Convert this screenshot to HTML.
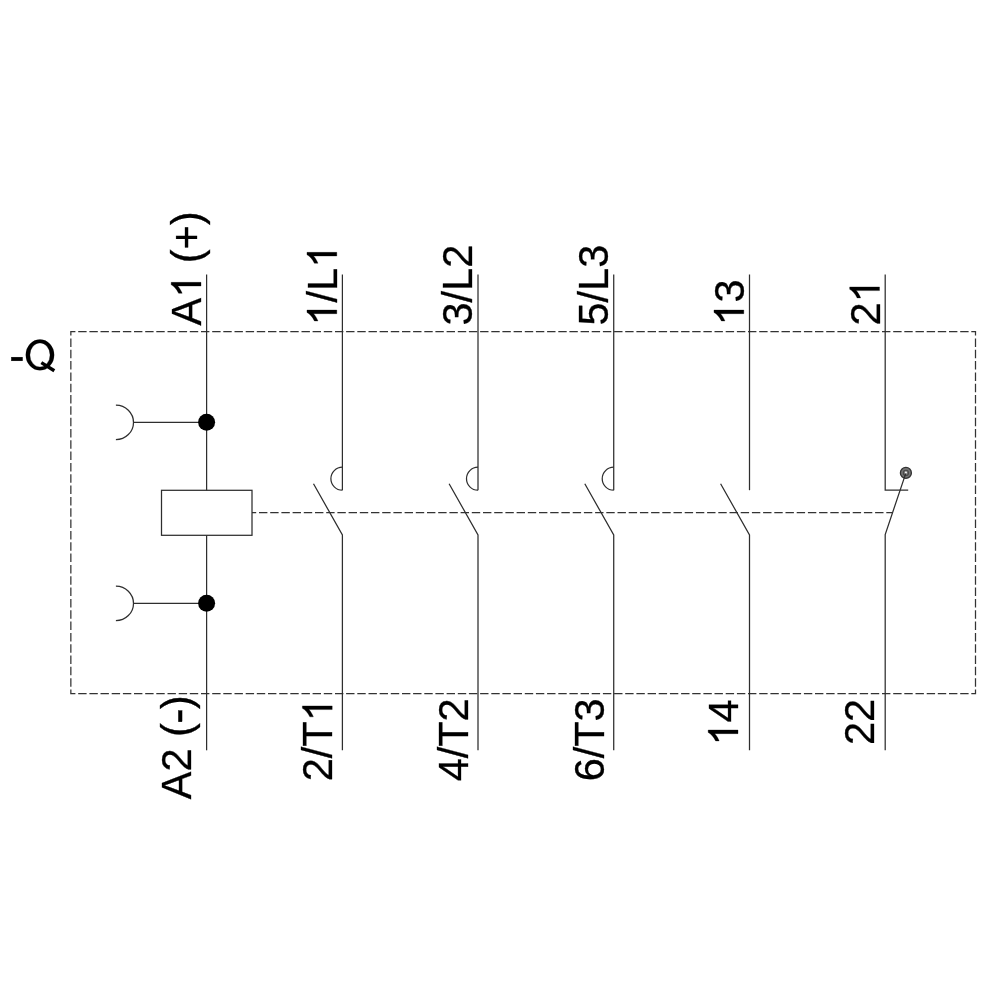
<!DOCTYPE html>
<html><head><meta charset="utf-8"><title>Contactor circuit diagram</title>
<style>
html,body{margin:0;padding:0;background:#fff;}
body{width:1000px;height:1000px;overflow:hidden;}
svg{display:block;will-change:transform;}
text{font-family:"Liberation Sans",sans-serif;font-size:41.5px;fill:#000;font-kerning:none;stroke:#000;stroke-width:0.3px;}
.h{fill:none;stroke:none;}
.g{fill:#000;stroke:#000;stroke-width:0.3px;}
.o{stroke-width:15px;}
.ln{stroke:#2e2e2e;stroke-width:1.25;fill:none;}
.ds{stroke:#333;stroke-width:1.25;fill:none;}
</style></head>
<body>
<svg width="1000" height="1000" viewBox="0 0 1000 1000">
<rect width="1000" height="1000" fill="#fff"/>
<path class="ds" d="M70.2 331.65H75.4M78.2 331.65H86.6M89.4 331.65H97.8M100.5 331.65H108.9M111.7 331.65H120.1M122.9 331.65H131.3M134.0 331.65H142.4M145.2 331.65H153.6M156.3 331.65H164.7M167.5 331.65H175.9M178.7 331.65H187.1M189.8 331.65H198.2M201.0 331.65H209.4M212.2 331.65H220.6M223.3 331.65H231.7M234.5 331.65H242.9M245.7 331.65H254.1M256.8 331.65H265.2M268.0 331.65H276.4M279.2 331.65H287.6M290.3 331.65H298.7M301.5 331.65H309.9M312.6 331.65H321.0M323.8 331.65H332.2M335.0 331.65H343.4M346.1 331.65H354.5M357.3 331.65H365.7M368.5 331.65H376.9M379.6 331.65H388.0M390.8 331.65H399.2M402.0 331.65H410.4M413.1 331.65H421.5M424.3 331.65H432.7M435.4 331.65H443.8M446.6 331.65H455.0M457.8 331.65H466.2M468.9 331.65H477.3M480.1 331.65H488.5M491.3 331.65H499.7M502.4 331.65H510.8M513.6 331.65H522.0M524.8 331.65H533.2M535.9 331.65H544.3M547.1 331.65H555.5M558.3 331.65H566.7M569.4 331.65H577.8M580.6 331.65H589.0M591.7 331.65H600.1M602.9 331.65H611.3M614.1 331.65H622.5M625.2 331.65H633.6M636.4 331.65H644.8M647.6 331.65H656.0M658.7 331.65H667.1M669.9 331.65H678.3M681.1 331.65H689.5M692.2 331.65H700.6M703.4 331.65H711.8M714.5 331.65H722.9M725.7 331.65H734.1M736.9 331.65H745.3M748.0 331.65H756.4M759.2 331.65H767.6M770.4 331.65H778.8M781.5 331.65H789.9M792.7 331.65H801.1M803.9 331.65H812.3M815.0 331.65H823.4M826.2 331.65H834.6M837.4 331.65H845.8M848.5 331.65H856.9M859.7 331.65H868.1M870.8 331.65H879.2M882.0 331.65H890.4M893.2 331.65H901.6M904.3 331.65H912.7M915.5 331.65H923.9M926.7 331.65H935.1M937.8 331.65H946.2M949.0 331.65H957.4M960.2 331.65H968.6M971.3 331.65H976.1M70.2 693.6H75.4M78.2 693.6H86.6M89.4 693.6H97.8M100.5 693.6H108.9M111.7 693.6H120.1M122.9 693.6H131.3M134.0 693.6H142.4M145.2 693.6H153.6M156.3 693.6H164.7M167.5 693.6H175.9M178.7 693.6H187.1M189.8 693.6H198.2M201.0 693.6H209.4M212.2 693.6H220.6M223.3 693.6H231.7M234.5 693.6H242.9M245.7 693.6H254.1M256.8 693.6H265.2M268.0 693.6H276.4M279.2 693.6H287.6M290.3 693.6H298.7M301.5 693.6H309.9M312.6 693.6H321.0M323.8 693.6H332.2M335.0 693.6H343.4M346.1 693.6H354.5M357.3 693.6H365.7M368.5 693.6H376.9M379.6 693.6H388.0M390.8 693.6H399.2M402.0 693.6H410.4M413.1 693.6H421.5M424.3 693.6H432.7M435.4 693.6H443.8M446.6 693.6H455.0M457.8 693.6H466.2M468.9 693.6H477.3M480.1 693.6H488.5M491.3 693.6H499.7M502.4 693.6H510.8M513.6 693.6H522.0M524.8 693.6H533.2M535.9 693.6H544.3M547.1 693.6H555.5M558.3 693.6H566.7M569.4 693.6H577.8M580.6 693.6H589.0M591.7 693.6H600.1M602.9 693.6H611.3M614.1 693.6H622.5M625.2 693.6H633.6M636.4 693.6H644.8M647.6 693.6H656.0M658.7 693.6H667.1M669.9 693.6H678.3M681.1 693.6H689.5M692.2 693.6H700.6M703.4 693.6H711.8M714.5 693.6H722.9M725.7 693.6H734.1M736.9 693.6H745.3M748.0 693.6H756.4M759.2 693.6H767.6M770.4 693.6H778.8M781.5 693.6H789.9M792.7 693.6H801.1M803.9 693.6H812.3M815.0 693.6H823.4M826.2 693.6H834.6M837.4 693.6H845.8M848.5 693.6H856.9M859.7 693.6H868.1M870.8 693.6H879.2M882.0 693.6H890.4M893.2 693.6H901.6M904.3 693.6H912.7M915.5 693.6H923.9M926.7 693.6H935.1M937.8 693.6H946.2M949.0 693.6H957.4M960.2 693.6H968.6M971.3 693.6H976.1M70.85 331.0V335.6M70.85 338.4V346.9M70.85 349.7V358.2M70.85 361.0V369.5M70.85 372.4V380.9M70.85 383.7V392.2M70.85 395.0V403.5M70.85 406.3V414.8M70.85 417.7V426.2M70.85 429.0V437.5M70.85 440.3V448.8M70.85 451.6V460.1M70.85 463.0V471.5M70.85 474.3V482.8M70.85 485.6V494.1M70.85 496.9V505.4M70.85 508.3V516.8M70.85 519.6V528.1M70.85 530.9V539.4M70.85 542.2V550.7M70.85 553.6V562.1M70.85 564.9V573.4M70.85 576.2V584.7M70.85 587.6V596.1M70.85 598.9V607.4M70.85 610.2V618.7M70.85 621.5V630.0M70.85 632.9V641.4M70.85 644.2V652.7M70.85 655.5V664.0M70.85 666.8V675.3M70.85 678.2V686.7M70.85 689.5V694.2M975.5 331.0V335.6M975.5 338.4V346.9M975.5 349.7V358.2M975.5 361.0V369.5M975.5 372.4V380.9M975.5 383.7V392.2M975.5 395.0V403.5M975.5 406.3V414.8M975.5 417.7V426.2M975.5 429.0V437.5M975.5 440.3V448.8M975.5 451.6V460.1M975.5 463.0V471.5M975.5 474.3V482.8M975.5 485.6V494.1M975.5 496.9V505.4M975.5 508.3V516.8M975.5 519.6V528.1M975.5 530.9V539.4M975.5 542.2V550.7M975.5 553.6V562.1M975.5 564.9V573.4M975.5 576.2V584.7M975.5 587.6V596.1M975.5 598.9V607.4M975.5 610.2V618.7M975.5 621.5V630.0M975.5 632.9V641.4M975.5 644.2V652.7M975.5 655.5V664.0M975.5 666.8V675.3M975.5 678.2V686.7M975.5 689.5V694.2"/>
<path class="ds" d="M252.0 512.6H256.2M259.0 512.6H267.4M270.2 512.6H278.6M281.4 512.6H289.8M292.6 512.6H301.0M303.8 512.6H312.2M315.0 512.6H323.4M326.2 512.6H334.6M337.4 512.6H345.8M348.6 512.6H357.0M359.8 512.6H368.2M371.0 512.6H379.4M382.2 512.6H390.6M393.4 512.6H401.8M404.6 512.6H413.0M415.8 512.6H424.2M427.0 512.6H435.4M438.2 512.6H446.6M449.4 512.6H457.8M460.6 512.6H469.0M471.8 512.6H480.2M483.0 512.6H491.4M494.2 512.6H502.6M505.4 512.6H513.8M516.6 512.6H525.0M527.8 512.6H536.2M539.0 512.6H547.4M550.2 512.6H558.6M561.4 512.6H569.8M572.7 512.6H581.1M583.9 512.6H592.3M595.1 512.6H603.5M606.3 512.6H614.7M617.5 512.6H625.9M628.7 512.6H637.1M639.9 512.6H648.3M651.1 512.6H659.5M662.3 512.6H670.7M673.5 512.6H681.9M684.7 512.6H693.1M695.9 512.6H704.3M707.1 512.6H715.5M718.3 512.6H726.7M729.5 512.6H737.9M740.7 512.6H749.1M751.9 512.6H760.3M763.1 512.6H771.5M774.3 512.6H782.7M785.5 512.6H793.9M796.7 512.6H805.1M807.9 512.6H816.3M819.1 512.6H827.5M830.3 512.6H838.7M841.5 512.6H849.9M852.7 512.6H861.1M863.9 512.6H872.3M875.1 512.6H883.5M886.3 512.6H892.3"/>
<rect class="ln" x="161.5" y="490.3" width="90.5" height="45"/>
<line class="ln" x1="206.6" y1="274.5" x2="206.6" y2="490.3"/>
<line class="ln" x1="206.6" y1="535.3" x2="206.6" y2="750.3"/>
<line class="ln" x1="133.3" y1="422.3" x2="206.6" y2="422.3"/>
<circle cx="206.6" cy="422.3" r="8.5" fill="#000"/>
<path class="ln" d="M115.9 405.2 A17.6 17.2 0 0 1 115.9 439.6"/>
<line class="ln" x1="133.3" y1="603.3" x2="206.6" y2="603.3"/>
<circle cx="206.6" cy="603.3" r="8.5" fill="#000"/>
<path class="ln" d="M115.9 586.2 A17.6 17.2 0 0 1 115.9 620.6"/>
<line class="ln" x1="342.4" y1="274.5" x2="342.4" y2="490.2"/>
<path class="ln" d="M313.5 483.7 L342.4 535 L342.4 750.3"/>
<path class="ln" d="M342.4 467.2 A11.5 11.5 0 0 0 342.4 490.2"/>
<line class="ln" x1="478.0" y1="274.5" x2="478.0" y2="490.2"/>
<path class="ln" d="M449.1 483.7 L478.0 535 L478.0 750.3"/>
<path class="ln" d="M478.0 467.2 A11.5 11.5 0 0 0 478.0 490.2"/>
<line class="ln" x1="613.72" y1="274.5" x2="613.72" y2="490.2"/>
<path class="ln" d="M584.8 483.7 L613.72 535 L613.72 750.3"/>
<path class="ln" d="M613.72 467.2 A11.5 11.5 0 0 0 613.72 490.2"/>
<line class="ln" x1="749.5" y1="274.5" x2="749.5" y2="490.2"/>
<path class="ln" d="M720.6 483.7 L749.5 535 L749.5 750.3"/>
<path class="ln" d="M885.2 274.5 L885.2 490.15 L908.2 490.15"/>
<circle cx="905.9" cy="472.9" r="5.5" fill="#747474" stroke="#333" stroke-width="1.3"/>
<circle cx="905.9" cy="472.9" r="2.6" fill="none" stroke="#4a4a4a" stroke-width="1.1"/>
<circle cx="905.9" cy="472.6" r="1.1" fill="#eee"/>
<path class="ln" d="M905.7 473.6 L885.2 534.5 L885.2 750.3"/>
<g transform="translate(10.00 369.80)"><text transform="scale(1 1.04)"><tspan class="h">-</tspan><tspan class="h">Q</tspan></text><rect class="g" x="1.32" y="-12.66" width="11.29" height="3.73"/><path class="g" fill-rule="evenodd" d="M15.83 -14.85A14.14 15.36 0 1 0 44.11 -14.85A14.14 15.36 0 1 0 15.83 -14.85ZM19.88 -14.85A10.09 12.06 0 1 0 40.06 -14.85A10.09 12.06 0 1 0 19.88 -14.85Z"/><path d="M31.32 -7.2L44.32 0.9" stroke="#000" stroke-width="3.4" fill="none"/></g>
<g transform="translate(201.00 325.50) rotate(-90)"><text transform="scale(1 1.04)">A<tspan class="h">1</tspan> (+)</text><path class="g o" transform="translate(27.68 0) scale(0.020264 -0.020264)" d="M763 0H583V1147Q518 1085 412.5 1023T223 930V1104Q373 1174.5 485 1274.5T644 1472H763Z"/></g>
<g transform="translate(336.80 325.50) rotate(-90)"><text transform="scale(1 1.04)"><tspan class="h">1</tspan>/L<tspan class="h">1</tspan></text><path class="g o" transform="translate(0.00 0) scale(0.020264 -0.020264)" d="M763 0H583V1147Q518 1085 412.5 1023T223 930V1104Q373 1174.5 485 1274.5T644 1472H763Z"/><path class="g o" transform="translate(57.69 0) scale(0.020264 -0.020264)" d="M763 0H583V1147Q518 1085 412.5 1023T223 930V1104Q373 1174.5 485 1274.5T644 1472H763Z"/></g>
<g transform="translate(472.30 325.50) rotate(-90)"><text transform="scale(1 1.04)">3/L2</text></g>
<g transform="translate(608.00 325.50) rotate(-90)"><text transform="scale(1 1.04)">5/L3</text></g>
<g transform="translate(743.80 325.50) rotate(-90)"><text transform="scale(1 1.04)"><tspan class="h">1</tspan>3</text><path class="g o" transform="translate(0.00 0) scale(0.020264 -0.020264)" d="M763 0H583V1147Q518 1085 412.5 1023T223 930V1104Q373 1174.5 485 1274.5T644 1472H763Z"/></g>
<g transform="translate(879.50 325.50) rotate(-90)"><text transform="scale(1 1.04)">2<tspan class="h">1</tspan></text><path class="g o" transform="translate(23.08 0) scale(0.020264 -0.020264)" d="M763 0H583V1147Q518 1085 412.5 1023T223 930V1104Q373 1174.5 485 1274.5T644 1472H763Z"/></g>
<g transform="translate(191.00 799.25) rotate(-90)"><text transform="scale(1 1.04)">A2 (<tspan class="h">-</tspan>)</text><rect class="g" x="77.43" y="-12.66" width="11.29" height="3.73"/></g>
<g transform="translate(332.20 781.34) rotate(-90)"><text transform="scale(1 1.04)">2/T<tspan class="h">1</tspan></text><path class="g o" transform="translate(59.96 0) scale(0.020264 -0.020264)" d="M763 0H583V1147Q518 1085 412.5 1023T223 930V1104Q373 1174.5 485 1274.5T644 1472H763Z"/></g>
<g transform="translate(468.00 781.34) rotate(-90)"><text transform="scale(1 1.04)">4/T2</text></g>
<g transform="translate(603.60 781.34) rotate(-90)"><text transform="scale(1 1.04)">6/T3</text></g>
<g transform="translate(738.00 745.46) rotate(-90)"><text transform="scale(1 1.04)"><tspan class="h">1</tspan>4</text><path class="g o" transform="translate(0.00 0) scale(0.020264 -0.020264)" d="M763 0H583V1147Q518 1085 412.5 1023T223 930V1104Q373 1174.5 485 1274.5T644 1472H763Z"/></g>
<g transform="translate(874.00 744.96) rotate(-90)"><text transform="scale(1 1.04)">22</text></g>
</svg>
</body></html>
